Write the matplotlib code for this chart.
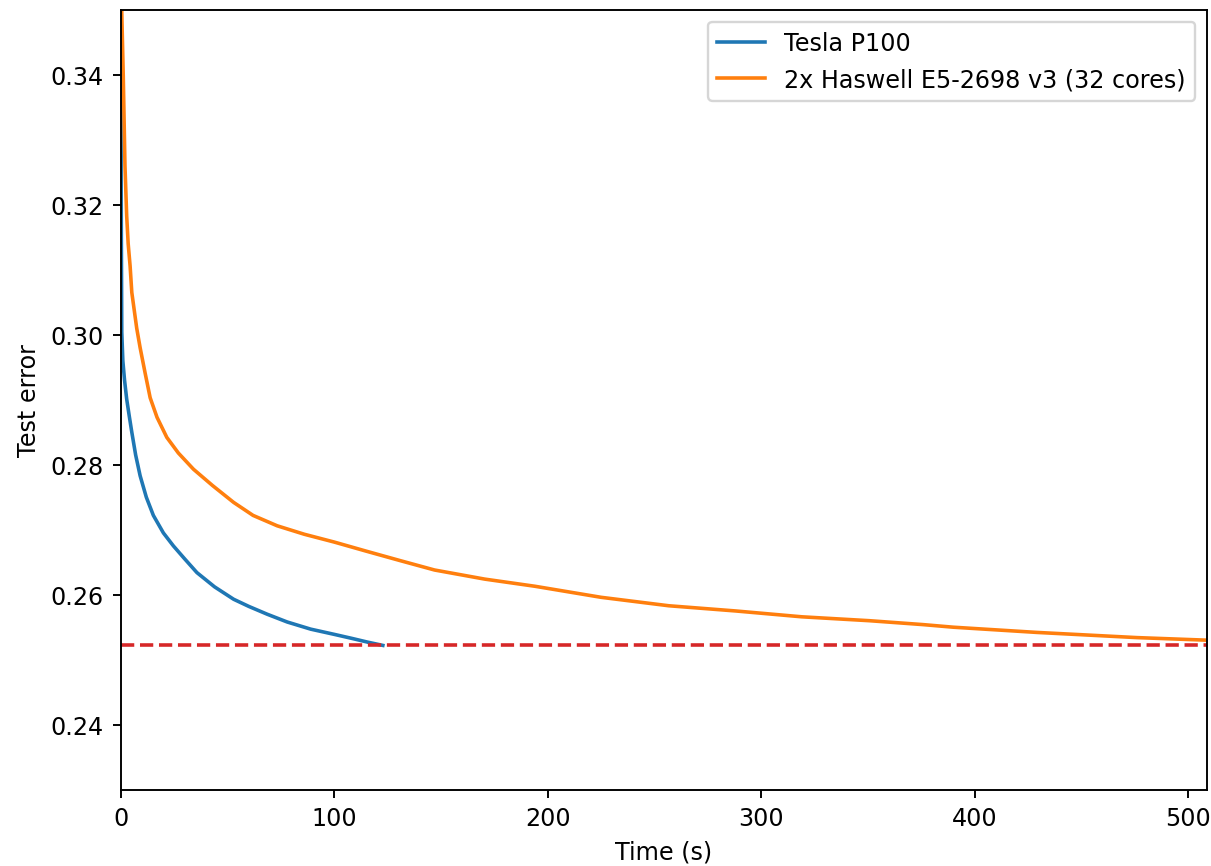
import matplotlib
matplotlib.use("Agg")
import matplotlib.pyplot as plt

# Tesla P100 (GPU)
gpu_t = [0.0, 0.15, 0.3, 0.5, 1.0, 1.8, 2.8, 4.0, 5.2, 7.0, 9.1, 12.0, 15.3, 20.0, 24.7,
         30.0, 35.7, 44.0, 52.9, 60.0, 68.6, 78.0, 89.0, 100.0, 108.0, 115.7, 122.8]
gpu_err = [0.37, 0.335, 0.315, 0.3004, 0.2960, 0.2930, 0.2901, 0.2875, 0.2850, 0.2815,
           0.2783, 0.2750, 0.2722, 0.2695, 0.2675, 0.2655, 0.2634, 0.2612, 0.2593,
           0.2582, 0.2570, 0.2558, 0.2547, 0.2539, 0.2533, 0.2527, 0.2522]

# 2x Haswell E5-2698 v3 (CPU)
cpu_t = [0.0, 0.5, 1.2, 2.0, 2.8, 3.5, 4.4, 5.2, 7.5, 9.1, 11.5, 13.8, 17.0, 21.6, 27.0, 34.1,
         43.0, 52.9, 62.0, 73.3, 86.0, 100.0, 115.0, 131.4, 147.0, 170.5, 194.0, 225.0,
         256.7, 288.0, 319.0, 350.7, 375.8, 390.0, 429.0, 476.0, 509.0]
cpu_err = [0.37, 0.3496, 0.3398, 0.3260, 0.3183, 0.3140, 0.3106, 0.3065, 0.3010, 0.2980,
           0.2940, 0.2903, 0.2873, 0.2842, 0.2818, 0.2793, 0.2768, 0.2742, 0.2722, 0.2706,
           0.2693, 0.2681, 0.2667, 0.2652, 0.2638, 0.2624, 0.2613, 0.2596, 0.2583,
           0.2575, 0.2566, 0.2560, 0.2554, 0.2550, 0.2542, 0.2534, 0.2530]

target_err = 0.2522

labels = ["Tesla P100", "2x Haswell E5-2698 v3 (32 cores)"]

DPI = 172
fig = plt.figure(figsize=(1211 / DPI, 867 / DPI), dpi=DPI)
ax = fig.add_axes([120.7 / 1211, 1 - 790.7 / 867, (1207.3 - 120.7) / 1211, (790.7 - 10.7) / 867])

ax.plot(gpu_t, gpu_err, color="#1f77b4", lw=1.5, label=labels[0])
ax.plot(cpu_t, cpu_err, color="#ff7f0e", lw=1.5, label=labels[1])
ax.axhline(target_err, color="#d62728", ls="--", lw=1.5)

ax.set_xlim(0, 509)
ax.set_ylim(0.23, 0.35)
ax.set_xticks([0, 100, 200, 300, 400, 500])
ax.set_yticks([0.24, 0.26, 0.28, 0.30, 0.32, 0.34])
ax.set_xlabel("Time (s)")
ax.set_ylabel("Test error")
ax.legend(loc="upper right")

fig.savefig("out.png", dpi=DPI)
